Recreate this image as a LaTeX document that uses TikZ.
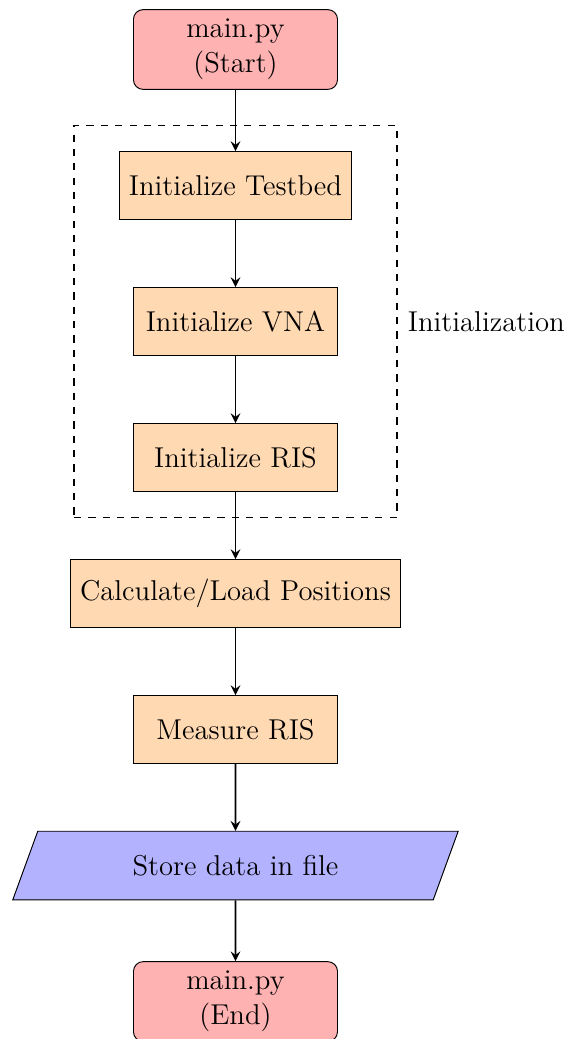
\documentclass[12pt,tikz,border=0pt]{standalone}
\usetikzlibrary{positioning,shapes.geometric,fit,arrows}

\tikzset{
  startstop/.style={rectangle, rounded corners, minimum width=3cm, minimum height=1cm, align=center, draw=black, fill=red!30},
  process/.style={rectangle, minimum width=3cm, minimum height=1cm, align=center, draw=black, fill=orange!30},
  io/.style={trapezium, trapezium left angle=70, trapezium right angle=110, trapezium stretches body, minimum width=6.55cm, inner ysep=10pt, minimum height=1cm, align=center, draw=black, fill=blue!30},
  arrow/.style={thick,->,>=stealth}
}

\begin{document}
\begin{tikzpicture}[node distance=2cm, on grid]
    \useasboundingbox (-3.463,0.728) rectangle (4.831,-14.551);
    \node (start) [startstop] {main.py\\(Start)};
    \node (testbed) [process, below=of start] {Initialize Testbed};
    \node (vna) [process, below=of testbed] {Initialize VNA};
    \node (ris) [process, below=of vna] {Initialize RIS};
    \node (positions) [process, below=of ris] {Calculate/Load Positions};
    \node (measure) [process, below=of positions] {Measure RIS};
    \node (store) [io, below=of measure] {Store data in file};
    \node (stop) [startstop, below=of store] {main.py\\(End)};

    % init group
    \node (init) [draw, thick, dashed, inner xsep=0.66cm, inner ysep=0.375cm, fit=(testbed)(ris)] {};
    \node (initlabel) [anchor=west] at (init.east) {Initialization};

    \draw [arrow] (start) -- (testbed);
    \draw [arrow] (testbed) -- (vna);
    \draw [arrow] (vna) -- (ris);
    \draw [arrow] (ris) -- (positions);
    \draw [arrow] (positions) -- (measure);
    \draw [arrow] (measure) -- (store);
    \draw [arrow] (store) -- (stop);
\end{tikzpicture}
\end{document}
